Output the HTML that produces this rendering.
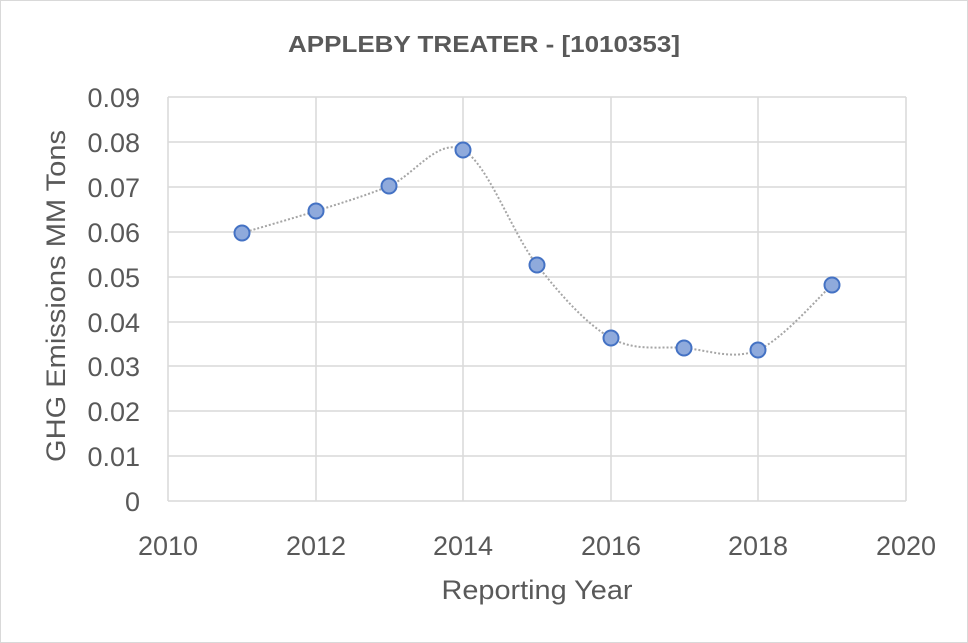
<!DOCTYPE html>
<html><head><meta charset="utf-8"><style>
html,body{margin:0;padding:0;background:#fff}
svg{display:block;font-family:"Liberation Sans",sans-serif}
</style></head><body>
<svg width="968" height="643" viewBox="0 0 968 643">
<rect x="0.5" y="0.5" width="967" height="642" fill="#fff" stroke="#d9d9d9"/>
<text x="484" y="52" text-anchor="middle" font-size="23" font-weight="bold" fill="#595959" textLength="392" lengthAdjust="spacingAndGlyphs">APPLEBY TREATER - [1010353]</text>
<g stroke="#d9d9d9" stroke-width="1.5" fill="none">
<line x1="168" y1="97" x2="906" y2="97"/>
<line x1="168" y1="142" x2="906" y2="142"/>
<line x1="168" y1="187" x2="906" y2="187"/>
<line x1="168" y1="232" x2="906" y2="232"/>
<line x1="168" y1="277" x2="906" y2="277"/>
<line x1="168" y1="322" x2="906" y2="322"/>
<line x1="168" y1="366" x2="906" y2="366"/>
<line x1="168" y1="411" x2="906" y2="411"/>
<line x1="168" y1="456" x2="906" y2="456"/>
<line x1="168" y1="501" x2="906" y2="501"/>
<line x1="168" y1="97" x2="168" y2="501"/>
<line x1="316" y1="97" x2="316" y2="501"/>
<line x1="463" y1="97" x2="463" y2="501"/>
<line x1="611" y1="97" x2="611" y2="501"/>
<line x1="758" y1="97" x2="758" y2="501"/>
<line x1="906" y1="97" x2="906" y2="501"/>
</g>
<g font-size="27" fill="#595959" text-anchor="end">
<text x="140" y="107">0.09</text><text x="140" y="152">0.08</text><text x="140" y="197">0.07</text>
<text x="140" y="242">0.06</text><text x="140" y="287">0.05</text><text x="140" y="332">0.04</text>
<text x="140" y="376">0.03</text><text x="140" y="421">0.02</text><text x="140" y="466">0.01</text>
<text x="140" y="511">0</text>
</g>
<g font-size="27" fill="#595959" text-anchor="middle">
<text x="168" y="555">2010</text><text x="316" y="555">2012</text><text x="463" y="555">2014</text>
<text x="611" y="555">2016</text><text x="758" y="555">2018</text><text x="906" y="555">2020</text>
<text x="537" y="599" textLength="191" lengthAdjust="spacingAndGlyphs">Reporting Year</text>
</g>
<text transform="translate(65,296) rotate(-90)" font-size="27" fill="#595959" text-anchor="middle" textLength="332" lengthAdjust="spacingAndGlyphs">GHG Emissions MM Tons</text>
<path d="M242,233 C254.3,229.3 291.5,218.8 316,211 C340.5,203.2 364.5,196.2 389,186 C413.5,175.8 438.3,136.8 463,150 C487.7,163.2 512.3,233.7 537,265 C561.7,296.3 586.5,324.2 611,338 C635.5,351.8 659.5,346 684,348 C708.5,350 733.3,360.5 758,350 C782.7,339.5 819.7,295.8 832,285" fill="none" stroke="#a6a6a6" stroke-width="2" stroke-dasharray="2,2"/>
<g fill="#8faadc" stroke="#4472c4" stroke-width="2">
<circle cx="242" cy="233" r="7.5"/><circle cx="316" cy="211" r="7.5"/><circle cx="389" cy="186" r="7.5"/>
<circle cx="463" cy="150" r="7.5"/><circle cx="537" cy="265" r="7.5"/><circle cx="611" cy="338" r="7.5"/>
<circle cx="684" cy="348" r="7.5"/><circle cx="758" cy="350" r="7.5"/><circle cx="832" cy="285" r="7.5"/>
</g>
</svg>
</body></html>
